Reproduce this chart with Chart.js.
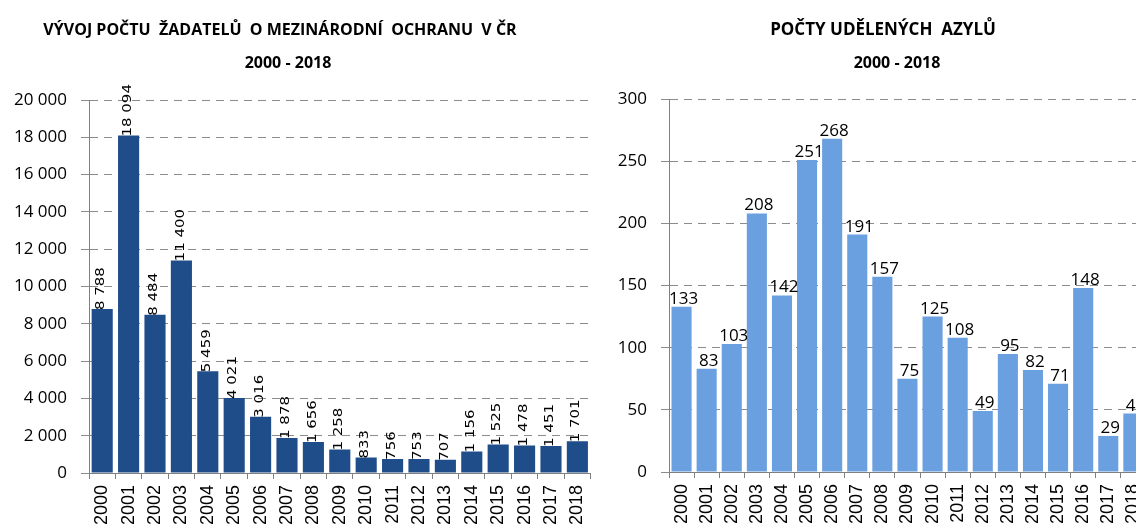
<!DOCTYPE html>
<html lang="cs">
<head>
<meta charset="utf-8">
<script src="https://cdn.jsdelivr.net/npm/chart.js@4"></script>
<style>
html, body { margin: 0; padding: 0; background: #fff; overflow: hidden; width: 1136px; height: 526px; }
#wrapLeft { position: absolute; left: 0; top: 0; width: 605px; height: 526px; }
#wrapRight { position: absolute; left: 605px; top: 0; width: 556px; height: 526px; }
</style>
</head>
<body>
<div id="wrapLeft"><canvas id="applicants"></canvas></div>
<div id="wrapRight"><canvas id="asylums"></canvas></div>
<script>
const years = ['2000', '2001', '2002', '2003', '2004', '2005', '2006', '2007', '2008', '2009',
    '2010', '2011', '2012', '2013', '2014', '2015', '2016', '2017', '2018'];
const applicants = [8788, 18094, 8484, 11400, 5459, 4021, 3016, 1878, 1656, 1258,
    833, 756, 753, 707, 1156, 1525, 1478, 1451, 1701];
const asylums = [133, 83, 103, 208, 142, 251, 268, 191, 157, 75,
    125, 108, 49, 95, 82, 71, 148, 29, 47];
const leftTitle = ['VÝVOJ POČTU  ŽADATELŮ  O MEZINÁRODNÍ  OCHRANU  V ČR', '2000 - 2018'];
const rightTitle = ['POČTY UDĚLENÝCH  AZYLŮ', '2000 - 2018'];

function formatNumber(v) {
    return String(v).replace(/\B(?=(\d{3})+(?!\d))/g, ' ');
}

// two title lines, drawn where the original has them
const twoLineTitle = {
    id: 'twoLineTitle',
    afterDraw(chart, args, opts) {
        const ctx = chart.ctx;
        ctx.save();
        ctx.fillStyle = '#000';
        ctx.textAlign = 'center';
        ctx.font = 'bold ' + opts.size + 'px "Open Sans"';
        ctx.fillText(opts.lines[0], opts.x[0], 35);
        ctx.font = 'bold 16px "Open Sans"';
        ctx.fillText(opts.lines[1], opts.x[1], 68);
        ctx.restore();
    }
};

// value labels on top of the bars
const barLabels = {
    id: 'barLabels',
    afterDatasetsDraw(chart, args, opts) {
        const ctx = chart.ctx;
        const meta = chart.getDatasetMeta(0);
        const values = chart.data.datasets[0].data;
        ctx.save();
        ctx.fillStyle = '#000';
        ctx.font = opts.font;
        meta.data.forEach((bar, i) => {
            const text = formatNumber(values[i]);
            if (opts.vertical) {
                ctx.save();
                ctx.translate(bar.x - 1, bar.y + 1);
                ctx.rotate(-Math.PI / 2);
                ctx.scale(1.25, 1);
                ctx.textAlign = 'left';
                ctx.textBaseline = 'middle';
                ctx.fillText(text, 0, 0);
                ctx.restore();
            } else {
                ctx.textAlign = 'center';
                ctx.textBaseline = 'alphabetic';
                ctx.fillText(text, bar.x + 2, bar.y - 3);
            }
        });
        ctx.restore();
    }
};

function makeChart(canvasId, values, color, max, step, yWidth, xHeight, topPad, title, labelOpts) {
    return new Chart(document.getElementById(canvasId), {
        type: 'bar',
        data: {
            labels: years,
            datasets: [{
                data: values,
                backgroundColor: color,
                barPercentage: 0.8,
                categoryPercentage: 1
            }]
        },
        options: {
            responsive: true,
            maintainAspectRatio: false,
            animation: false,
            layout: { padding: { top: topPad, right: 1, left: 0, bottom: 0 } },
            plugins: {
                legend: { display: false },
                tooltip: { enabled: false },
                twoLineTitle: title,
                barLabels: labelOpts
            },
            scales: {
                x: {
                    grid: { drawOnChartArea: false, drawTicks: true, tickLength: 6, color: '#808080' },
                    border: { color: '#808080' },
                    ticks: {
                        minRotation: 90, maxRotation: 90, autoSkip: false, padding: 6,
                        color: '#000', font: { family: 'Liberation Sans', size: 18 }
                    },
                    afterFit(scale) { scale.height = xHeight; }
                },
                y: {
                    min: 0,
                    max: max,
                    grid: { color: '#8c8c8c', tickColor: '#8c8c8c', tickLength: 8 },
                    border: { color: '#808080', dash: [8, 6] },
                    ticks: {
                        stepSize: step, padding: 14,
                        color: '#000', font: { family: 'Open Sans', size: 17 },
                        callback: (v) => formatNumber(v)
                    },
                    afterFit(scale) { scale.width = yWidth; }
                }
            }
        },
        plugins: [twoLineTitle, barLabels]
    });
}

const applicantsChart = makeChart('applicants', applicants, '#1f4d8a', 20000, 2000, 89, 53, 100,
    { lines: leftTitle, x: [280, 288], size: 16 },
    { vertical: true, font: '12px "DejaVu Sans"' });

const asylumsChart = makeChart('asylums', asylums, '#6a9fe0', 300, 50, 64, 54, 99,
    { lines: rightTitle, x: [278, 292], size: 17 },
    { vertical: false, font: '17px "Open Sans"' });
</script>
</body>
</html>
